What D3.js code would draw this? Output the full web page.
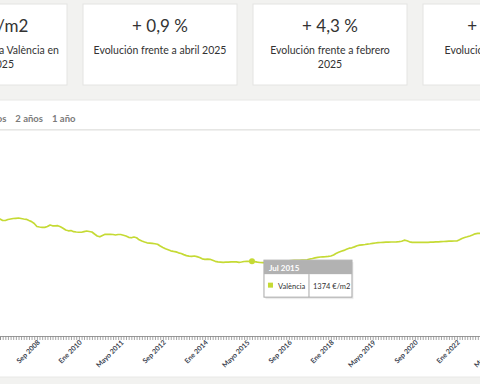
<!DOCTYPE html>
<html><head><meta charset="utf-8">
<script src="https://cdn.jsdelivr.net/npm/d3@7"></script>
<style>
html,body{margin:0;padding:0;background:#f2f2f0;overflow:hidden;}
svg{display:block;font-family:Lato,"Open Sans",sans-serif;}
</style></head><body>
<svg id="c" width="480" height="384"></svg>
<script>
// ---------- data ----------
const cardValues = ["3.051 €/m2", "+ 0,9 %", "+ 4,3 %", "+ 10,2 %"];
const cardLabels = [
  ["Precio m2 vivienda València en", "mayo 2025"],
  ["Evolución frente a abril 2025"],
  ["Evolución frente a febrero", "2025"],
  ["Evolución frente a mayo", "2024"]
];
const rangeButtons = ["5 años", "2 años", "1 año"];
const seriesName = "València";
const unit = "€/m2";
const firstMonth = "2007-06";
const values = [2145,
 2148,2120,2120,2139,2148,2157,2161,2166,2157,2148,2142,2120,2100,2065,2010,2001,1995,1995,2010,2038,
 2023,2023,2025,2005,1979,1946,1931,1936,1915,1909,1905,1905,1915,1927,1918,1909,1872,1836,1821,1845,
 1867,1867,1867,1863,1854,1863,1863,1850,1836,1812,1803,1817,1803,1766,1744,1726,1711,1705,1700,1694,
 1685,1652,1625,1601,1582,1564,1553,1544,1527,1514,1494,1476,1467,1463,1469,1458,1441,1417,1408,1410,
 1408,1390,1371,1360,1357,1353,1355,1357,1360,1362,1362,1351,1358,1368,1369,1369,1374,1366,1355,1349,
 1346,1347,1351,1355,1358,1362,1366,1369,1373,1377,1380,1384,1388,1390,1391,1393,1395,1399,1413,1423,
 1434,1443,1450,1454,1456,1461,1469,1487,1514,1536,1555,1571,1592,1612,1619,1636,1656,1669,1674,1680,
 1687,1693,1700,1707,1713,1716,1720,1722,1724,1726,1726,1727,1731,1740,1759,1748,1729,1720,1720,1720,
 1720,1720,1720,1720,1722,1724,1727,1729,1733,1735,1738,1740,1742,1744,1744,1766,1790,1808,1821,1836,
 1854,1876,1885,1885,1890,1895];
const tickLabels = ["Sep 2008","Ene 2010","Mayo 2011","Sep 2012","Ene 2014","Mayo 2015","Sep 2016","Ene 2018","Mayo 2019","Sep 2020","Ene 2022","Mayo 2023"];
const tickMonths = ["2008-09","2010-01","2011-05","2012-09","2014-01","2015-05","2016-09","2018-01","2019-05","2020-09","2022-01","2023-05"];
const monthNames = ["Ene","Feb","Mar","Abr","Mayo","Jun","Jul","Ago","Sep","Oct","Nov","Dic"];
const highlightMonth = "2015-07";

// ---------- build ----------
const parseM = d3.timeParse("%Y-%m");
const start = parseM(firstMonth);
const data = values.map((v, i) => ({date: d3.timeMonth.offset(start, i), value: v}));
const fmtMonth = d => monthNames[d.getMonth()] + " " + d.getFullYear();

const W = 480, H = 384;
const svg = d3.select("#c");
const lineColor = "#c5da34";

// page background
svg.append("rect").attr("width", W).attr("height", H).attr("fill", "#f2f2f0");

// cards
const cardW = 154, cardH = 81, cardTop = 4, cardGap = 16, firstCardX = -87;
const cards = svg.selectAll("g.card").data(cardValues).join("g")
  .attr("class", "card")
  .attr("transform", (d, i) => `translate(${firstCardX + i * (cardW + cardGap)},${cardTop})`);
cards.append("rect").attr("width", cardW).attr("height", cardH)
  .attr("fill", "#fff").attr("stroke", "#e4e4e2").attr("stroke-width", 1);
cards.append("text").attr("x", (d, i) => cardW / 2 - (i === 0 ? 6 : 0)).attr("y", 28).attr("text-anchor", "middle")
  .attr("font-size", 17).attr("fill", "#333").text(d => d);
cards.each(function(d, i) {
  const g = d3.select(this);
  cardLabels[i].forEach((t, j) => {
    g.append("text").attr("x", cardW / 2 - (i === 0 ? 2 : 0)).attr("y", 50 + j * 14).attr("text-anchor", "middle")
      .attr("font-size", 10.5).attr("fill", "#333").text(t);
  });
});

// white chart panel
svg.append("rect").attr("x", -5).attr("y", 100).attr("width", W + 10).attr("height", 277)
  .attr("fill", "#fff").attr("stroke", "#e8e8e6");

// range buttons (laid out right-to-left from the last one)
const btnG = svg.append("g");
let bx = 52;
for (let i = rangeButtons.length - 1; i >= 0; i--) {
  const t = btnG.append("text").attr("y", 122).attr("font-size", 9.5).attr("font-weight", 700)
    .attr("fill", "#7a7a7a").text(rangeButtons[i]);
  const w = t.node().getComputedTextLength();
  if (i < rangeButtons.length - 1) bx = bx - 9 - w;
  t.attr("x", bx);
}
// separator line under buttons
svg.append("rect").attr("x", -5).attr("y", 129).attr("width", W + 10).attr("height", 1.6).attr("fill", "#e6e6e4");

// scales
const x = d3.scaleTime().domain([parseM("2007-07"), parseM("2022-10")]).range([0, 480.4]);
const y = d3.scaleLinear().domain([0, 3800]).range([336, 129]);

// x axis: monthly ticks
const axisG = svg.append("g").attr("transform", "translate(0,336)")
  .call(d3.axisBottom(x).ticks(d3.timeMonth.every(1)).tickSize(4).tickFormat(""));
axisG.select(".domain").attr("stroke", "#9a9a9a");
axisG.selectAll(".tick line").attr("stroke", "#8e8e8e").attr("stroke-width", 0.8);

// rotated labels
svg.append("g").selectAll("text").data(tickLabels).join("text")
  .attr("transform", (d, i) => `translate(${x(parseM(tickMonths[i])) + 3.5},${343}) rotate(-45)`)
  .attr("text-anchor", "end").attr("font-size", 7).attr("font-weight", 700)
  .attr("fill", "#3a4250").text(d => d);

// line
svg.append("path").datum(data)
  .attr("fill", "none").attr("stroke", lineColor).attr("stroke-width", 1.7)
  .attr("stroke-linejoin", "round")
  .attr("d", d3.line().x(d => x(d.date)).y(d => y(d.value)));

// highlighted point
const hp = data.find(d => +d.date === +parseM(highlightMonth));
svg.append("circle").attr("cx", x(hp.date)).attr("cy", y(hp.value)).attr("r", 3).attr("fill", lineColor);

// tooltip
const tx = x(hp.date) + 12, ty = y(hp.value) - 1;
const tt = svg.append("g").attr("transform", `translate(${tx},${ty})`);
tt.append("rect").attr("x", 1.5).attr("y", 2).attr("width", 88).attr("height", 37)
  .attr("fill", "#000").attr("opacity", 0.08);
tt.append("rect").attr("width", 88).attr("height", 37).attr("fill", "#fff").attr("stroke", "#a8a8a8");
tt.append("rect").attr("width", 88).attr("height", 14).attr("fill", "#b2b2b2");
tt.append("text").attr("x", 5).attr("y", 10.5).attr("font-size", 8).attr("font-weight", 700)
  .attr("fill", "#fff").text(fmtMonth(hp.date));
tt.append("rect").attr("x", 4).attr("y", 22.5).attr("width", 5).attr("height", 5).attr("fill", lineColor);
tt.append("text").attr("x", 14).attr("y", 28.5).attr("font-size", 7.5).attr("fill", "#333").text(seriesName);
tt.append("line").attr("x1", 45).attr("x2", 45).attr("y1", 14).attr("y2", 37).attr("stroke", "#a8a8a8");
tt.append("text").attr("x", 49).attr("y", 28.5).attr("font-size", 7.5).attr("fill", "#333")
  .text(hp.value + " " + unit);
</script></body></html>
